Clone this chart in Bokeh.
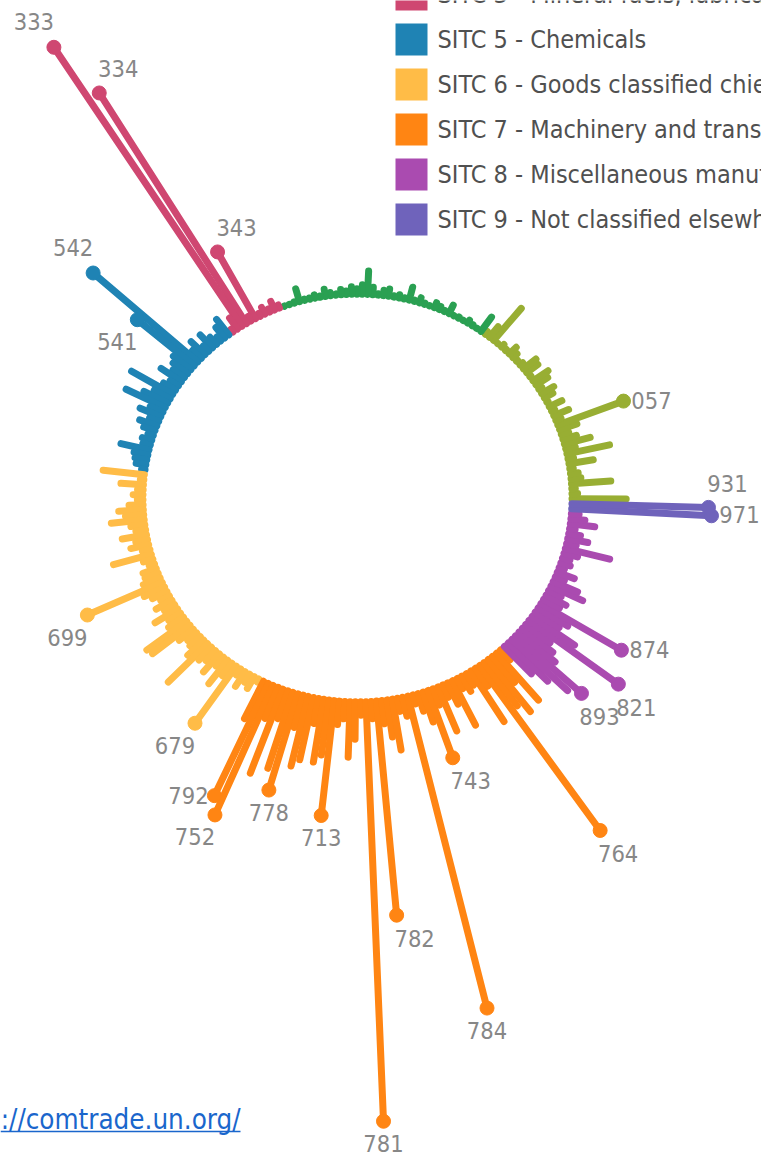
import math
from bokeh.plotting import figure
from bokeh.models import Range1d, ColumnDataSource
from bokeh.embed import file_html
from bokeh.resources import INLINE
from bokeh.core.properties import value

# ---------------- data (bar length beyond the inner ring, ring radius = 1), in drawing order ----------------
SECTION_NAMES = [
    "SITC 0 - Food and live animals",
    "SITC 2 - Crude materials, inedible, except fuels",
    "SITC 3 - Mineral fuels, lubricants and related materials",
    "SITC 5 - Chemicals",
    "SITC 6 - Goods classified chiefly by material",
    "SITC 7 - Machinery and transport equipment",
    "SITC 8 - Miscellaneous manufactured articles",
    "SITC 9 - Not classified elsewhere in the SITC",
]

SITC0_VALUES = [.29, .06, .05, .22, .08, .07, .05, .15, .06, .24, .08, .16, .10, .07, .12, .35, .06, .11, .05, .10,
                .04, .08, .10, .05, .10, .12, .04, .10, .11, .05, .04, .06, .08, .04, .05, .03, .24, .10, .05]
SITC2_VALUES = [.12, .03, .04, .05, .03, .04, .03, .08, .04, .05, .06, .03, .04, .06, .04, .10, .04, .05, .04, .07,
                .06, .04, .07, .15, .08, .06, .07, .05, .06, .04, .05, .07, .04, .05, .04, .04, .10, .04, .03, .03]
SITC3_VALUES = [.05, .08, .05, .07, .05, .395, .06, 1.362, 1.669, .10, .05]
SITC5_VALUES = [.13, .10, .06, .08, .12, .07, .125, .09, .682, .371, .14, .12, .10, .15, .08, .10, .26, .12, .16, .24,
                .10, .14, .08, .12, .09, .06, .08, .07, .17, .10, .09, .08, .05]
SITC6_VALUES = [.23, .05, .14, .06, .08, .06, .10, .15, .12, .19, .10, .08, .15, .09, .12, .07, .22, .08, .06, .10,
                .10, .12, .407, .14, .11, .08, .12, .09, .16, .10, .12, .27, .26, .12, .09, .10, .14, .30, .12, .10,
                .15, .09, .18, .11, .362, .07, .12, .08, .10, .05]
SITC7_VALUES = [.24, .632, .719, .20, .48, .18, .43, .516, .20, .39, .35, .16, .35, .31, .593, .15, .12, .31, .22, .10,
                2.111, .12, 1.089, .15, .22, .29, .10, .13, 1.617, .08, .125, .19, .372, .12, .27, .10, .15, .28, .09,
                .12, .10, .33, .14, 1.018, .30, .36, .20, .34, .10]
SITC8_VALUES = [.22, .30, .40, .441, .26, .22, .18, .546, .28, .17, .20, .463, .12, .14, .10, .20, .16, .08, .12, .06,
                .08, .07, .10, .25, .08, .13, .09, .06, .15, .10, .07]
SITC9_VALUES = [.68, .664]

# labelled SITC groups: position inside the section -> code
SITC0_CODES = {15: "057"}
SITC2_CODES = {}
SITC3_CODES = {5: "343", 7: "334", 8: "333"}
SITC5_CODES = {8: "542", 9: "541"}
SITC6_CODES = {22: "699", 44: "679"}
SITC7_CODES = {1: "792", 2: "752", 7: "778", 14: "713", 20: "781", 22: "782", 28: "784", 32: "743", 43: "764"}
SITC8_CODES = {3: "893", 7: "821", 11: "874"}
SITC9_CODES = {0: "971", 1: "931"}

SECTION_VALUES = [SITC0_VALUES, SITC2_VALUES, SITC3_VALUES, SITC5_VALUES,
                  SITC6_VALUES, SITC7_VALUES, SITC8_VALUES, SITC9_VALUES]
SECTION_CODES = [SITC0_CODES, SITC2_CODES, SITC3_CODES, SITC5_CODES,
                 SITC6_CODES, SITC7_CODES, SITC8_CODES, SITC9_CODES]
LEGEND_SHOWN = [False, False, True, True, True, True, True, True]

SOURCE_TEXT = "://comtrade.un.org/"

# ---------------- style ----------------
COLORS = ["#98ae33", "#2aa052", "#cf4771", "#1f83b4", "#ffbc47", "#ff8513", "#aa4bb0", "#6f63bb"]
FONT = "DejaVu Sans Condensed"
LABEL_SIDE = {"333": "nw", "334": "ne", "343": "ne", "542": "nw", "541": "sw", "057": "e", "931": "ne",
              "971": "e", "874": "e", "821": "se", "893": "se", "743": "se", "713": "s", "778": "s",
              "752": "sw", "792": "w", "679": "sw", "699": "sw", "764": "se", "782": "se", "784": "s", "781": "s"}
SIDE_OFFSET = {"ne": (19, -24), "nw": (-20, -26), "e": (28, -1), "w": (-26, 0),
               "s": (0, 22), "se": (18, 23), "sw": (-20, 22)}

W, H = 761, 1157
CX, CY = 357.0, 497.5      # ring centre (px)
RX, RY = 211.0, 200.5      # ring radius (px) along x and y
LINE_W = 7
START_DEG = -0.2
LEG_SQ_X, LEG_TOP, LEG_ROW, LEG_SQ = 411, -6, 45, 32
LEG_TEXT_X = 437


def dx(px):
    return (px - CX) / RX


def dy(py):
    return (CY - py) / RY


p = figure(width=W, height=H, output_backend="svg", toolbar_location=None,
           x_axis_type=None, y_axis_type=None, min_border=0,
           x_range=Range1d(dx(0), dx(W)), y_range=Range1d(dy(H), dy(0)))
p.outline_line_color = None
p.background_fill_color = "white"
p.border_fill_color = "white"

n_total = sum(len(v) for v in SECTION_VALUES)
step = 2 * math.pi / n_total
theta0 = math.radians(START_DEG)
cap = (LINE_W / 2) / RX

lab = dict(x=[], y=[], text=[], xo=[], yo=[], color=[])
leg = dict(x=[], y=[], tx=[], text=[], color=[])
idx = 0
row = 0
for name, vals, codes, color, shown in zip(SECTION_NAMES, SECTION_VALUES, SECTION_CODES, COLORS, LEGEND_SHOWN):
    x0, y0, x1, y1 = [], [], [], []
    for k, v in enumerate(vals):
        t = theta0 + (idx + k) * step
        r0 = 1 + cap
        r1 = 1 + v - (0 if k in codes else cap)
        r1 = max(r1, r0 + 0.002)
        c, s = math.cos(t), math.sin(t)
        x0.append(r0 * c); y0.append(r0 * s)
        x1.append(r1 * c); y1.append(r1 * s)
        if k in codes:
            code = codes[k]
            lab["x"].append(r1 * c); lab["y"].append(r1 * s)
            lab["text"].append(code)
            ox, oy = SIDE_OFFSET[LABEL_SIDE[code]]
            lab["xo"].append(ox); lab["yo"].append(oy)
            lab["color"].append(color)
    idx += len(vals)
    p.segment(x0=x0, y0=y0, x1=x1, y1=y1, line_color=color, line_width=LINE_W, line_cap="round")
    if shown:
        ypx = LEG_TOP + row * LEG_ROW
        leg["x"].append(dx(LEG_SQ_X)); leg["y"].append(dy(ypx)); leg["tx"].append(dx(LEG_TEXT_X))
        leg["text"].append(name); leg["color"].append(color)
        row += 1

src = ColumnDataSource(lab)
p.scatter("x", "y", size=14, fill_color="color", line_color="color", source=src)
p.text("x", "y", text="text", x_offset="xo", y_offset="yo", source=src,
       text_align="center", text_baseline="middle", text_font=value(FONT),
       text_font_size="23.5px", text_color="#878787")

# legend (top right, cut by the right edge like the reference)
lsrc = ColumnDataSource(leg)
p.rect("x", "y", width=LEG_SQ, height=LEG_SQ, width_units="screen", height_units="screen",
       fill_color="color", line_color=None, source=lsrc)
p.text("tx", "y", text="text", source=lsrc, text_align="left", text_baseline="middle",
       text_font=value(FONT), text_font_size="25px", text_color="#505050")

# source link (cut at the left edge like the reference)
p.text(x=[dx(240)], y=[dy(1118)], text=[SOURCE_TEXT], text_align="right", text_baseline="middle",
       text_font=value(FONT), text_font_size="27.5px", text_color="#1a66cc")
p.segment(x0=[dx(0)], y0=[dy(1131)], x1=[dx(240)], y1=[dy(1131)], line_color="#1a66cc", line_width=1.5)

open("out.html", "w").write(file_html(p, INLINE))
